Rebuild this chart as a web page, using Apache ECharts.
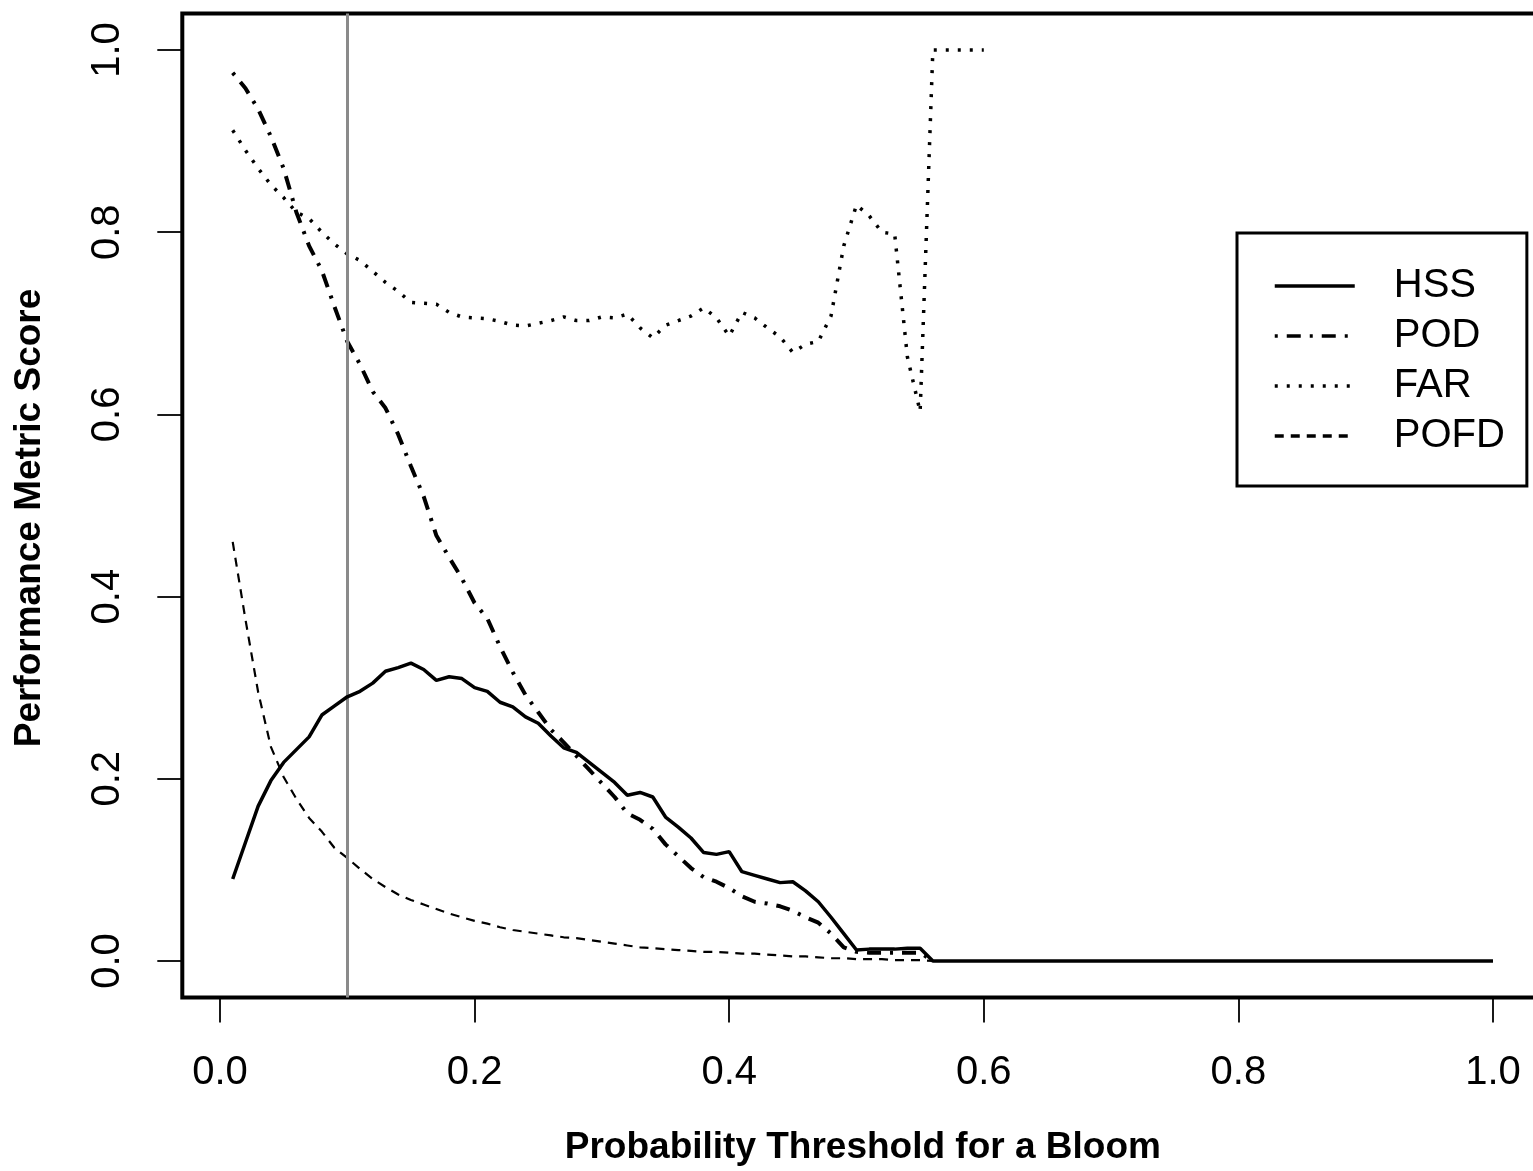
<!DOCTYPE html>
<html>
<head>
<meta charset="utf-8">
<title>Performance metrics vs probability threshold</title>
<script src="https://cdn.jsdelivr.net/npm/echarts@6/dist/echarts.min.js"></script>
<style>
  html, body { margin: 0; padding: 0; background: #fff; }
  #chart { width: 1533px; height: 1171px; }
</style>
</head>
<body>
<div id="chart"></div>
<script>
// probability thresholds (x)
const thresholds = [
  0.01, 0.02, 0.03, 0.04, 0.05, 0.06, 0.07, 0.08, 0.09, 0.10,
  0.11, 0.12, 0.13, 0.14, 0.15, 0.16, 0.17, 0.18, 0.19, 0.20,
  0.21, 0.22, 0.23, 0.24, 0.25, 0.26, 0.27, 0.28, 0.29, 0.30,
  0.31, 0.32, 0.33, 0.34, 0.35, 0.36, 0.37, 0.38, 0.39, 0.40,
  0.41, 0.42, 0.43, 0.44, 0.45, 0.46, 0.47, 0.48, 0.49, 0.50,
  0.51, 0.52, 0.53, 0.54, 0.55, 0.56, 0.57, 0.58, 0.59, 0.60,
  0.61, 0.62, 0.63, 0.64, 0.65, 0.66, 0.67, 0.68, 0.69, 0.70,
  0.71, 0.72, 0.73, 0.74, 0.75, 0.76, 0.77, 0.78, 0.79, 0.80,
  0.81, 0.82, 0.83, 0.84, 0.85, 0.86, 0.87, 0.88, 0.89, 0.90,
  0.91, 0.92, 0.93, 0.94, 0.95, 0.96, 0.97, 0.98, 0.99, 1.00
]

// Heidke skill score
const hss = [
  0.090, 0.130, 0.170, 0.198, 0.218, 0.232, 0.246, 0.270, 0.280, 0.290,
  0.296, 0.305, 0.318, 0.322, 0.327, 0.320, 0.308, 0.312, 0.310, 0.300,
  0.296, 0.284, 0.279, 0.268, 0.261, 0.247, 0.234, 0.229, 0.218, 0.207,
  0.196, 0.182, 0.185, 0.180, 0.158, 0.147, 0.135, 0.119, 0.117, 0.120,
  0.098, 0.094, 0.090, 0.086, 0.087, 0.077, 0.065, 0.048, 0.030, 0.012,
  0.013, 0.013, 0.013, 0.014, 0.014, 0, 0, 0, 0, 0,
  0, 0, 0, 0, 0, 0, 0, 0, 0, 0,
  0, 0, 0, 0, 0, 0, 0, 0, 0, 0,
  0, 0, 0, 0, 0, 0, 0, 0, 0, 0,
  0, 0, 0, 0, 0, 0, 0, 0, 0, 0
]

// probability of detection (0.01 .. 0.56)
const pod = [
  0.975, 0.958, 0.935, 0.905, 0.870, 0.822, 0.785, 0.758, 0.718, 0.680,
  0.655, 0.625, 0.607, 0.578, 0.543, 0.510, 0.467, 0.443, 0.420, 0.393,
  0.376, 0.345, 0.317, 0.292, 0.273, 0.254, 0.240, 0.225, 0.210, 0.195,
  0.180, 0.162, 0.155, 0.145, 0.128, 0.115, 0.102, 0.092, 0.087, 0.080,
  0.071, 0.065, 0.063, 0.060, 0.055, 0.048, 0.042, 0.030, 0.015, 0.010,
  0.009, 0.009, 0.009, 0.009, 0.009, 0
]

// false alarm ratio (0.01 .. 0.60)
const far = [
  0.912, 0.890, 0.870, 0.852, 0.838, 0.822, 0.815, 0.800, 0.787, 0.776,
  0.769, 0.757, 0.745, 0.735, 0.723, 0.722, 0.721, 0.712, 0.707, 0.706,
  0.705, 0.702, 0.698, 0.697, 0.700, 0.703, 0.707, 0.703, 0.703, 0.707,
  0.706, 0.710, 0.695, 0.684, 0.698, 0.703, 0.708, 0.717, 0.706, 0.686,
  0.712, 0.706, 0.695, 0.685, 0.668, 0.677, 0.680, 0.708, 0.785, 0.830,
  0.818, 0.800, 0.798, 0.663, 0.603, 1.000, 1.000, 1.000, 1.000, 1.000
]

// probability of false detection (0.01 .. 0.56)
const pofd = [
  0.460, 0.375, 0.295, 0.235, 0.202, 0.178, 0.157, 0.142, 0.124, 0.113,
  0.101, 0.090, 0.081, 0.073, 0.067, 0.062, 0.057, 0.052, 0.048, 0.044,
  0.041, 0.037, 0.034, 0.032, 0.030, 0.028, 0.026, 0.025, 0.023, 0.021,
  0.019, 0.017, 0.015, 0.014, 0.013, 0.012, 0.011, 0.010, 0.010, 0.009,
  0.008, 0.008, 0.007, 0.006, 0.005, 0.005, 0.004, 0.003, 0.003, 0.002,
  0.002, 0.002, 0.001, 0.001, 0.001, 0
]

const xTicks = [0, 0.2, 0.4, 0.6, 0.8, 1.0]
const yTicks = [0, 0.2, 0.4, 0.6, 0.8, 1.0]
const chosenThreshold = 0.1

const font = 'Liberation Sans, Arial, Helvetica, sans-serif'

const pairs = (vals) => vals.map((v, i) => [thresholds[i], v])

const chart = echarts.init(document.getElementById('chart'))

const option = {
  animation: false,
  backgroundColor: '#fff',
  textStyle: { fontFamily: font, color: '#000' },
  grid: {
    // plot region runs a little past the right edge of the picture, like the original
    left: 182.3,
    top: 13.6,
    width: 1361.1,
    height: 983.8,
    outerBoundsMode: 'none',
    show: true,
    borderColor: '#000',
    borderWidth: 4,
    containLabel: false
  },
  legend: {
    orient: 'vertical',
    left: 1237,
    top: 233,
    selectedMode: false,
    backgroundColor: '#fff',
    borderColor: '#000',
    borderWidth: 3,
    borderRadius: 0,
    padding: [33, 22, 30, 36],
    itemWidth: 80,
    itemHeight: 20,
    itemGap: 10,
    data: ['HSS', 'POD', 'FAR', 'POFD'],
    itemStyle: { color: 'rgba(0,0,0,0)', borderWidth: 0, opacity: 0 },
    lineStyle: { width: 3.5 },
    textStyle: {
      fontFamily: font,
      fontSize: 40,
      lineHeight: 40,
      color: '#000',
      padding: [0, 0, 0, 34]
    }
  },
  xAxis: {
    type: 'value',
    min: -0.0296,
    max: 1.0396,
    name: 'Probability Threshold for a Bloom',
    nameLocation: 'middle',
    nameGap: 132,
    nameTextStyle: { fontFamily: font, fontSize: 37, fontWeight: 'bold', color: '#000' },
    axisLine: { show: false, onZero: false },
    splitLine: { show: false },
    axisTick: {
      show: true,
      inside: false,
      length: 25,
      customValues: xTicks,
      lineStyle: { color: '#000', width: 1.8 }
    },
    axisLabel: {
      customValues: xTicks,
      margin: 56,
      fontFamily: font,
      fontSize: 40,
      color: '#000',
      formatter: (v) => v.toFixed(1)
    }
  },
  yAxis: {
    type: 'value',
    min: -0.04,
    max: 1.04,
    name: 'Performance Metric Score',
    nameLocation: 'middle',
    nameRotate: 90,
    nameGap: 134,
    nameTextStyle: {
      fontFamily: font, fontSize: 37, fontWeight: 'bold', color: '#000',
      padding: [0, 25, 0, 0]
    },
    axisLine: { show: false, onZero: false },
    splitLine: { show: false },
    axisTick: {
      show: true,
      inside: false,
      length: 25,
      customValues: yTicks,
      lineStyle: { color: '#000', width: 1.8 }
    },
    axisLabel: {
      customValues: yTicks,
      rotate: 90,
      margin: 54,
      fontFamily: font,
      fontSize: 40,
      color: '#000',
      formatter: (v) => v.toFixed(1)
    }
  },
  series: [
    {
      name: 'HSS',
      type: 'line',
      data: pairs(hss),
      symbol: 'none',
      z: 5,
      lineStyle: { color: '#000', width: 3.5, type: 'solid' },
      itemStyle: { color: '#000' },
      markLine: {
        silent: true,
        symbol: ['none', 'none'],
        label: { show: false },
        lineStyle: { color: '#8a8a8a', width: 3, type: 'solid' },
        data: [{ xAxis: chosenThreshold }]
      }
    },
    {
      name: 'POD',
      type: 'line',
      data: pairs(pod),
      symbol: 'none',
      z: 4,
      lineStyle: { color: '#000', width: 4, type: [3, 9, 14, 9] },
      itemStyle: { color: '#000' }
    },
    {
      name: 'FAR',
      type: 'line',
      data: pairs(far),
      symbol: 'none',
      z: 3,
      lineStyle: { color: '#000', width: 3.5, type: [3, 9] },
      itemStyle: { color: '#000' }
    },
    {
      name: 'POFD',
      type: 'line',
      data: pairs(pofd),
      symbol: 'none',
      z: 3,
      lineStyle: { color: '#000', width: 2.2, type: [9, 7] },
      itemStyle: { color: '#000' }
    }
  ]
}

chart.setOption(option)
</script>
</body>
</html>
